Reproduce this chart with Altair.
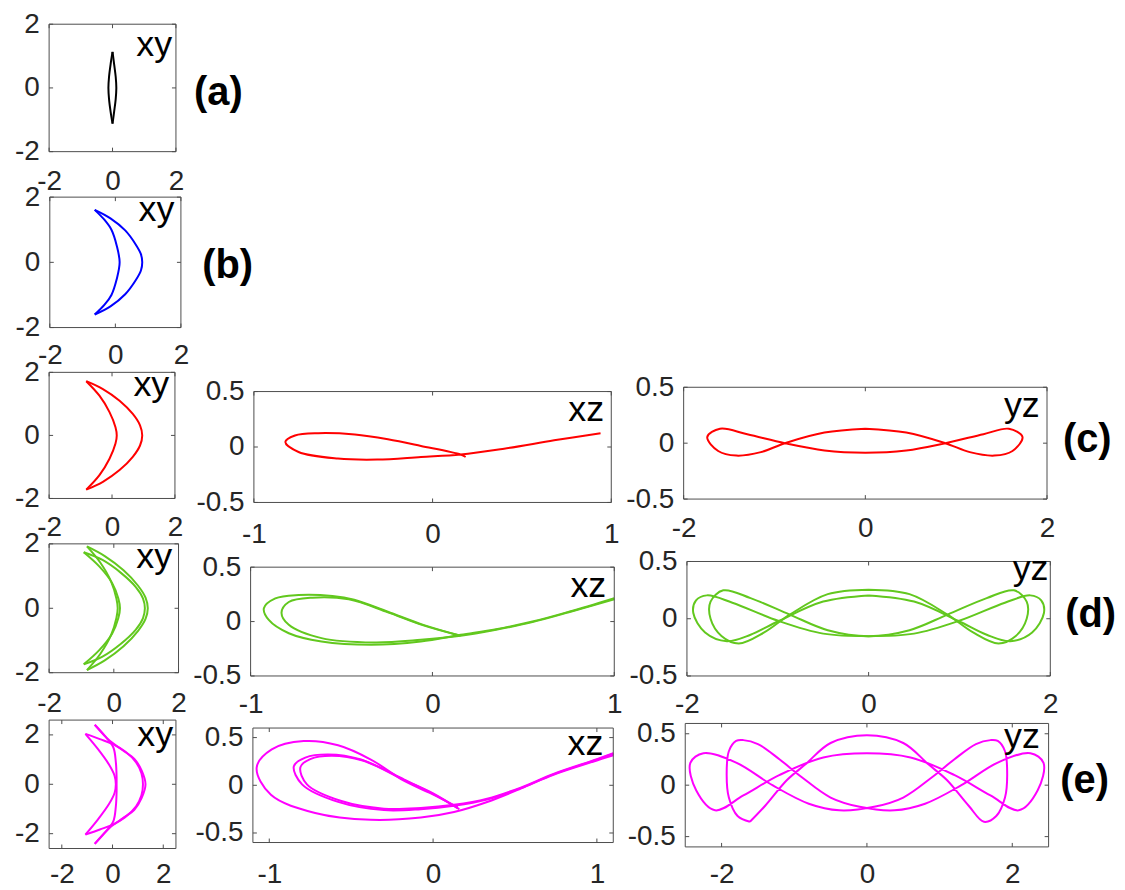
import altair as alt
import pandas as pd

# ---------------- data (data units) ----------------
a_xy_right = [(0.0, 1.13), (0.05, 0.75), (0.1, 0.35), (0.12, 0.0), (0.1, -0.35), (0.05, -0.75), (0.0, -1.12)]
a_xy_left = [(0.0, 1.13), (-0.06, 0.75), (-0.11, 0.35), (-0.13, 0.0), (-0.11, -0.35), (-0.06, -0.75), (0.0, -1.12)]

b_xy_inner = [(-0.63, 1.61), (-0.33, 1.3), (-0.12, 1.0), (0.04, 0.52), (0.13, 0.0), (0.04, -0.52), (-0.12, -1.0), (-0.33, -1.3), (-0.63, -1.6)]
b_xy_outer = [(-0.63, 1.61), (-0.15, 1.35), (0.3, 0.98), (0.62, 0.55), (0.78, 0.25), (0.82, 0.0), (0.78, -0.25), (0.62, -0.55), (0.3, -0.98), (-0.15, -1.35), (-0.63, -1.6)]

c_xy_inner = [(-0.82, 1.72), (-0.4, 1.26), (-0.08, 0.74), (0.11, 0.26), (0.15, 0.0), (0.11, -0.26), (-0.08, -0.74), (-0.4, -1.26), (-0.82, -1.72)]
c_xy_outer = [(-0.82, 1.72), (-0.29, 1.47), (0.24, 1.1), (0.66, 0.68), (0.89, 0.32), (0.96, 0.0), (0.89, -0.32), (0.66, -0.68), (0.24, -1.1), (-0.29, -1.47), (-0.82, -1.72)]
c_xz_path = [(0.185, -0.09), (0.157, -0.068), (-0.065, 0.01), (-0.25, 0.07), (-0.435, 0.113), (-0.64, 0.125), (-0.77, 0.104),
             (-0.824, 0.045), (-0.75, -0.045), (-0.53, -0.104), (-0.31, -0.113), (-0.065, -0.09), (0.157, -0.068),
             (0.4, -0.015), (0.68, 0.06), (0.94, 0.125)]
c_yz_path = [(0.0, 0.129), (0.45, 0.095), (0.88, 0.0), (1.15, -0.08), (1.42, -0.111), (1.62, -0.07), (1.73, 0.055), (1.58, 0.129),
             (1.3, 0.08), (0.88, 0.0), (0.45, -0.065), (0.0, -0.085), (-0.45, -0.065), (-0.886, 0.0), (-1.3, 0.08), (-1.6, 0.129),
             (-1.74, 0.055), (-1.62, -0.07), (-1.42, -0.111), (-1.15, -0.08), (-0.886, 0.0), (-0.45, 0.095), (0.0, 0.129)]

d_xy_inner1 = [(-0.83, 1.92), (-0.42, 1.42), (-0.08, 0.82), (0.08, 0.3), (0.12, 0.0), (0.08, -0.3), (-0.08, -0.82), (-0.42, -1.42), (-0.83, -1.92)]
d_xy_outer1 = [(-0.83, 1.92), (-0.28, 1.62), (0.3, 1.18), (0.75, 0.7), (0.98, 0.33), (1.05, 0.0), (0.98, -0.33), (0.75, -0.7), (0.3, -1.18), (-0.28, -1.62), (-0.83, -1.92)]
d_xy_inner2 = [(-0.93, 1.74), (-0.45, 1.3), (-0.05, 0.78), (0.14, 0.3), (0.19, 0.0), (0.14, -0.3), (-0.05, -0.78), (-0.45, -1.3), (-0.93, -1.74)]
d_xy_outer2 = [(-0.93, 1.74), (-0.35, 1.5), (0.22, 1.1), (0.68, 0.66), (0.9, 0.31), (0.96, 0.0), (0.9, -0.31), (0.68, -0.66), (0.22, -1.1), (-0.35, -1.5), (-0.93, -1.74)]
d_xz_outer = [(0.155, -0.13), (-0.05, -0.03), (-0.245, 0.09), (-0.43, 0.2), (-0.55, 0.235), (-0.736, 0.244), (-0.864, 0.213), (-0.927, 0.122),
              (-0.9, 0.015), (-0.79, -0.107), (-0.61, -0.183), (-0.336, -0.213), (-0.064, -0.183), (0.155, -0.122),
              (0.35, -0.07), (0.55, 0.0), (0.75, 0.09), (1.0, 0.215)]
d_xz_inner = [(0.155, -0.131), (-0.05, -0.035), (-0.245, 0.085), (-0.46, 0.204), (-0.66, 0.22), (-0.79, 0.18), (-0.83, 0.082),
              (-0.79, -0.03), (-0.61, -0.152), (-0.32, -0.192), (-0.064, -0.168), (0.155, -0.131), (0.35, -0.075), (0.55, -0.005),
              (0.75, 0.085), (1.0, 0.205)]
d_yz_a = [(0.0, 0.254), (0.45, 0.215), (0.868, 0.036), (1.15, -0.12), (1.43, -0.216), (1.62, -0.15), (1.74, 0.0), (1.74, 0.15),
          (1.6, 0.248), (1.3, 0.18), (0.868, 0.036), (0.45, -0.1), (0.0, -0.152), (-0.45, -0.1), (-0.868, 0.036), (-1.3, 0.18),
          (-1.6, 0.248), (-1.74, 0.15), (-1.74, 0.0), (-1.62, -0.15), (-1.43, -0.216), (-1.15, -0.12), (-0.868, 0.036),
          (-0.45, 0.215), (0.0, 0.254)]
d_yz_b = [(0.0, 0.204), (0.5, 0.15), (0.99, -0.02), (1.3, -0.14), (1.56, -0.196), (1.8, -0.12), (1.93, 0.05), (1.9, 0.16),
          (1.78, 0.204), (1.5, 0.14), (0.99, -0.02), (0.5, -0.13), (0.0, -0.152), (-0.5, -0.13), (-0.99, -0.02), (-1.5, 0.14),
          (-1.78, 0.204), (-1.9, 0.16), (-1.93, 0.05), (-1.8, -0.12), (-1.56, -0.196), (-1.3, -0.14), (-0.99, -0.02),
          (-0.5, 0.15), (0.0, 0.204)]

e_xy_inner_a = [(-0.7, 2.41), (-0.31, 1.97), (0.03, 1.5), (0.13, 0.9), (0.16, 0.3), (0.16, 0.0), (0.16, -0.3), (0.13, -0.9), (0.03, -1.5), (-0.31, -1.97), (-0.7, -2.41)]
e_xy_outer_a = [(-0.7, 2.41), (-0.12, 1.77), (0.4, 1.38), (0.86, 1.03), (1.15, 0.55), (1.3, 0.0), (1.15, -0.55), (0.86, -1.03), (0.4, -1.38), (-0.12, -1.77), (-0.7, -2.41)]
e_xy_inner_b = [(-1.07, 2.04), (-0.58, 1.43), (-0.14, 0.8), (0.08, 0.35), (0.13, 0.0), (0.08, -0.35), (-0.14, -0.8), (-0.58, -1.43), (-1.07, -2.04)]
e_xy_outer_b = [(-1.07, 2.04), (-0.5, 1.83), (0.01, 1.63), (0.5, 1.33), (0.93, 0.89), (1.14, 0.45), (1.2, 0.0), (1.14, -0.45), (0.93, -0.89), (0.5, -1.33), (0.01, -1.63), (-0.5, -1.83), (-1.07, -2.04)]
e_xz_outer = [(0.15, -0.23), (-0.02, -0.08), (-0.176, 0.045), (-0.38, 0.27), (-0.58, 0.42), (-0.79, 0.463), (-0.985, 0.376),
              (-1.077, 0.185), (-0.99, -0.1), (-0.72, -0.29), (-0.38, -0.362), (-0.075, -0.338), (0.128, -0.28),
              (0.33, -0.175), (0.535, -0.035), (0.735, 0.115), (1.0, 0.268), (1.1, 0.33)]
e_xz_inner1 = [(0.16, -0.25), (0.0, -0.09), (-0.176, 0.06), (-0.44, 0.27), (-0.64, 0.324), (-0.78, 0.29), (-0.85, 0.2), (-0.8, 0.01),
               (-0.58, -0.174), (-0.3, -0.26), (-0.075, -0.25), (0.128, -0.215), (0.33, -0.15), (0.535, -0.03), (0.735, 0.11),
               (1.0, 0.26), (1.1, 0.315)]
e_xz_inner2 = [(0.15, -0.24), (0.0, -0.085), (-0.176, 0.055), (-0.43, 0.26), (-0.62, 0.31), (-0.75, 0.275), (-0.81, 0.19), (-0.77, 0.01),
               (-0.56, -0.165), (-0.3, -0.245), (-0.075, -0.238), (0.128, -0.205), (0.33, -0.14), (0.535, -0.024), (0.735, 0.12),
               (1.0, 0.274), (1.1, 0.336)]
e_yz_path = [(-1.61, -0.356), (-1.4, -0.2), (-1.1, 0.05), (-0.85, 0.2), (-0.5, 0.41), (0.0, 0.486), (0.5, 0.41), (0.85, 0.2),
             (1.1, 0.05), (1.4, -0.2), (1.61, -0.356), (1.78, -0.3), (1.9, -0.12), (1.93, 0.1), (1.9, 0.33), (1.8, 0.43),
             (1.7, 0.438), (1.5, 0.4), (1.2, 0.25), (0.9, 0.08), (0.5, -0.12), (0.1, -0.21), (-0.38, -0.244), (-0.8, -0.18),
             (-1.3, 0.0), (-1.8, 0.22), (-2.25, 0.311), (-2.43, 0.216), (-2.35, -0.05), (-2.09, -0.244), (-1.7, -0.1),
             (-1.2, 0.1), (-0.6, 0.27), (0.0, 0.311), (0.6, 0.27), (1.2, 0.1), (1.7, -0.1), (2.09, -0.244), (2.35, -0.05),
             (2.43, 0.216), (2.25, 0.311), (1.8, 0.22), (1.3, 0.0), (0.8, -0.18), (0.38, -0.244), (-0.1, -0.21), (-0.5, -0.12),
             (-0.9, 0.08), (-1.2, 0.25), (-1.5, 0.4), (-1.7, 0.438), (-1.8, 0.43), (-1.9, 0.33), (-1.93, 0.1), (-1.9, -0.12),
             (-1.78, -0.3), (-1.61, -0.356)]

# ---------------- layout (page pixels) ----------------
W, H = 1105, 862
M = 8
FONT = "Liberation Sans"
FRAME = "#4d4d4d"
TXT = "#262626"
TICK_FS = 28

PANELS = [
    dict(L=49.3, R=176.7, T=15.3, B=143.3, xd=[-2, 2], yd=[-2, 2], xt=[-2, 0, 2], yt=[-2, 0, 2], color="#000000",
         series=[a_xy_right, a_xy_left], label="xy", lp=(1.88, 1.01), xpad=16, tag="(a)", tp=(2.57, -0.55)),
    dict(L=50, R=181.7, T=189, B=320, xd=[-2, 2], yd=[-2, 2], xt=[-2, 0, 2], yt=[-2, 0, 2], color="#0000FF",
         series=[b_xy_inner, b_xy_outer], label="xy", lp=(1.8, 1.26), xpad=14, tag="(b)", tp=(2.65, -0.47)),
    dict(L=49.3, R=175.7, T=365, B=491.7, xd=[-2, 2], yd=[-2, 2], xt=[-2, 0, 2], yt=[-2, 0, 2], color="#FF0000",
         series=[c_xy_inner, c_xy_outer], label="xy", lp=(1.82, 1.26), xpad=15),
    dict(L=255, R=614, T=384.3, B=495.7, xd=[-1, 1], yd=[-0.5, 0.5], xt=[-1, 0, 1], yt=[-0.5, 0, 0.5], color="#FF0000",
         series=[c_xz_path], label="xz", lp=(0.96, 0.238), xpad=18),
    dict(L=686.7, R=1051.7, T=380, B=492.3, xd=[-2, 2], yd=[-0.5, 0.5], xt=[-2, 0, 2], yt=[-0.5, 0, 0.5], color="#FF0000",
         series=[c_yz_path], label="yz", lp=(1.92, 0.233), xpad=16, tag="(c)", tp=(2.175, -0.079)),
    dict(L=49.3, R=179.3, T=537.3, B=666.7, xd=[-2, 2], yd=[-2, 2], xt=[-2, 0, 2], yt=[-2, 0, 2], color="#62C81E",
         series=[d_xy_inner1, d_xy_outer1, d_xy_inner2, d_xy_outer2], label="xy", lp=(1.8, 1.24), xpad=17),
    dict(L=251.7, R=617, T=560.7, B=670, xd=[-1, 1], yd=[-0.5, 0.5], xt=[-1, 0, 1], yt=[-0.5, 0, 0.5], color="#62C81E",
         series=[d_xz_outer, d_xz_inner], label="xz", lp=(0.956, 0.23), xpad=15),
    dict(L=690, R=1055, T=555, B=670, xd=[-2, 2], yd=[-0.5, 0.5], xt=[-2, 0, 2], yt=[-0.5, 0, 0.5], color="#62C81E",
         series=[d_yz_a, d_yz_b], label="yz", lp=(1.98, 0.34), xpad=15, tag="(d)", tp=(2.165, -0.074)),
    dict(L=49.3, R=176.7, T=714.3, B=843.3, xd=[-2.5, 2.5], yd=[-2.6, 2.6], xt=[-2, 0, 2], yt=[-2, 0, 2], color="#FF00FF",
         series=[e_xy_inner_a, e_xy_outer_a, e_xy_inner_b, e_xy_outer_b], label="xy", lp=(2.39, 1.56), xpad=12),
    dict(L=254, R=616, T=722.3, B=837.3, xd=[-1.1, 1.1], yd=[-0.6, 0.6], xt=[-1, 0, 1], yt=[-0.5, 0, 0.5], color="#FF00FF",
         series=[e_xz_outer, e_xz_inner1, e_xz_inner2], label="xz", lp=(1.04, 0.32), xpad=18),
    dict(L=688.3, R=1053.3, T=717.7, B=841.7, xd=[-2.5, 2.5], yd=[-0.6, 0.6], xt=[-2, 0, 2], yt=[-0.5, 0, 0.5], color="#FF00FF",
         series=[e_yz_path], label="yz", lp=(2.38, 0.36), xpad=14, tag="(e)", tp=(2.66, -0.077)),
]

layers = []
for p in PANELS:
    xs = alt.Scale(domain=p["xd"], range=[p["L"] - M, p["R"] - M], nice=False, zero=False)
    ys = alt.Scale(domain=p["yd"], range=[p["B"] - M, p["T"] - M], nice=False, zero=False)
    rows = []
    for s, pts in enumerate(p["series"]):
        for i, (x, y) in enumerate(pts):
            rows.append({"x": x, "y": y, "s": s, "i": i})
    df = pd.DataFrame(rows)
    xaxis = alt.Axis(orient="bottom", offset=(p["B"] - M) - H, values=p["xt"], domain=False, ticks=False, grid=False,
                     labelFontSize=TICK_FS, labelFont=FONT, labelColor=TXT, labelPadding=p["xpad"], labelFlush=False,
                     labelOverlap=False, labelExpr="toString(datum.value)", title=None)
    yaxis = alt.Axis(orient="left", offset=-(p["L"] - M), values=p["yt"], domain=False, ticks=False, grid=False,
                     labelFontSize=TICK_FS, labelFont=FONT, labelColor=TXT, labelPadding=10, labelFlush=False,
                     labelOverlap=False, labelExpr="toString(datum.value)", title=None)
    layers.append(
        alt.Chart(df).mark_line(color=p["color"], strokeWidth=2, interpolate="catmull-rom").encode(
            x=alt.X("x:Q", scale=xs, axis=xaxis),
            y=alt.Y("y:Q", scale=ys, axis=yaxis),
            detail="s:N",
            order="i:Q",
        )
    )
    # frame
    fdf = pd.DataFrame([{"x": p["xd"][0], "x2": p["xd"][1], "y": p["yd"][0], "y2": p["yd"][1]}])
    layers.append(
        alt.Chart(fdf).mark_rect(fillOpacity=0, stroke=FRAME, strokeWidth=1).encode(
            x=alt.X("x:Q", scale=xs, axis=None), x2="x2", y=alt.Y("y:Q", scale=ys, axis=None), y2="y2"
        )
    )
    # inward ticks (4 px long)
    dy = 4 * (p["yd"][1] - p["yd"][0]) / (p["B"] - p["T"])
    dx = 4 * (p["xd"][1] - p["xd"][0]) / (p["R"] - p["L"])
    trows = []
    for t in p["xt"]:
        trows.append({"x": t, "x2": t, "y": p["yd"][0], "y2": p["yd"][0] + dy})
        trows.append({"x": t, "x2": t, "y": p["yd"][1], "y2": p["yd"][1] - dy})
    for t in p["yt"]:
        trows.append({"x": p["xd"][0], "x2": p["xd"][0] + dx, "y": t, "y2": t})
        trows.append({"x": p["xd"][1], "x2": p["xd"][1] - dx, "y": t, "y2": t})
    layers.append(
        alt.Chart(pd.DataFrame(trows)).mark_rule(color=FRAME, strokeWidth=1).encode(
            x=alt.X("x:Q", scale=xs, axis=None), x2="x2", y=alt.Y("y:Q", scale=ys, axis=None), y2="y2"
        )
    )
    # panel label
    ldf = pd.DataFrame([{"x": p["lp"][0], "y": p["lp"][1], "t": p["label"]}])
    layers.append(
        alt.Chart(ldf).mark_text(align="right", baseline="alphabetic", fontSize=36, font=FONT, color="#000000").encode(
            x=alt.X("x:Q", scale=xs, axis=None), y=alt.Y("y:Q", scale=ys, axis=None), text="t:N"
        )
    )
    if "tag" in p:
        tdf = pd.DataFrame([{"x": p["tp"][0], "y": p["tp"][1], "t": p["tag"]}])
        layers.append(
            alt.Chart(tdf).mark_text(align="left", baseline="alphabetic", fontSize=40, fontWeight="bold", font=FONT,
                                     color="#000000").encode(
                x=alt.X("x:Q", scale=xs, axis=None), y=alt.Y("y:Q", scale=ys, axis=None), text="t:N"
            )
        )

chart = (
    alt.layer(*layers)
    .resolve_scale(x="independent", y="independent")
    .resolve_axis(x="independent", y="independent")
    .properties(width=W, height=H, padding=0, background="#ffffff")
    .configure_view(stroke="transparent")
)

chart.save("out.html", embed_options={"renderer": "svg", "actions": False})
